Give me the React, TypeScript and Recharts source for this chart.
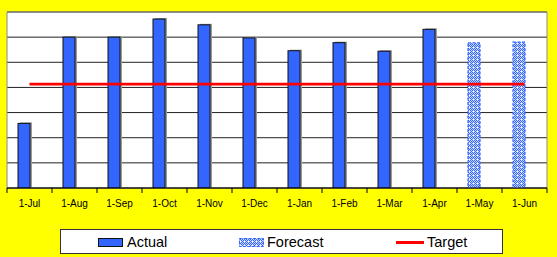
import React from "react";
import { ComposedChart, Bar, Line, XAxis, YAxis, CartesianGrid, ReferenceArea } from "recharts";

const months = ["1-Jul", "1-Aug", "1-Sep", "1-Oct", "1-Nov", "1-Dec", "1-Jan", "1-Feb", "1-Mar", "1-Apr", "1-May", "1-Jun"];
const actual: (number | null)[] = [2.57, 6.0, 6.0, 6.72, 6.49, 5.97, 5.46, 5.78, 5.44, 6.31, null, null];
const forecast: (number | null)[] = [null, null, null, null, null, null, null, null, null, null, 5.77, 5.8];
const target: number[] = [4.13, 4.13, 4.13, 4.13, 4.13, 4.13, 4.13, 4.13, 4.13, 4.13, 4.13, 4.13];
const yTicks = [0, 1, 2, 3, 4, 5, 6, 7];

const data = months.map((m, i) => ({ month: m, actual: actual[i], forecast: forecast[i], target: target[i] }));

const W = 557;
const H = 257;
const M = { top: 12, right: 10, left: 7, bottom: 39 };
const BAND = (W - M.left - M.right) / months.length;
const SHIFT = -6;
const BLUE = "#3366FF";

const ActualShape = (p: any) => {
  const { x, y, width, height } = p;
  if (!height || height <= 0) return null;
  const bx = x + SHIFT;
  return (
    <g>
      <rect x={bx + 2} y={y - 1} width={width} height={height + 1} fill="#9a9a9a" />
      <rect x={bx} y={y} width={width} height={height} fill={BLUE} stroke="#111" strokeWidth={1} />
    </g>
  );
};

const ForecastShape = (p: any) => {
  const { x, y, width, height } = p;
  if (!height || height <= 0) return null;
  const bx = x + SHIFT;
  return (
    <rect x={bx} y={y} width={width} height={height} fill="url(#fcPattern)" stroke={BLUE} strokeWidth={1.2} strokeDasharray="3 1.5" />
  );
};

const Tick = (p: any) => {
  const { x, y, payload, index } = p;
  const half = BAND / 2;
  return (
    <g>
      <line x1={x - half} x2={x - half} y1={y} y2={y + 5} stroke="#000" />
      {index === months.length - 1 && <line x1={x + half} x2={x + half} y1={y} y2={y + 5} stroke="#000" />}
      <text x={x} y={y + 18.5} textAnchor="middle" fontSize={10} fontFamily="Liberation Sans, Arial, sans-serif" fill="#000">
        {payload.value}
      </text>
    </g>
  );
};

export default function App() {
  return (
    <div style={{ position: "fixed", left: 0, top: 0, width: W, height: H, background: "#FFFF00", fontFamily: "Liberation Sans, Arial, sans-serif" }}>
      <svg width={0} height={0} style={{ position: "absolute" }}>
        <defs>
          <pattern id="fcPattern" width={4} height={4} patternUnits="userSpaceOnUse">
            <rect x={0} y={0} width={4} height={4} fill="#c9d6ff" />
            <rect x={0} y={0} width={1} height={1} fill={BLUE} />
            <rect x={2} y={0} width={1} height={1} fill={BLUE} />
            <rect x={1} y={1} width={1} height={1} fill={BLUE} />
            <rect x={3} y={1} width={1} height={1} fill={BLUE} />
            <rect x={0} y={2} width={1} height={1} fill={BLUE} />
            <rect x={2} y={2} width={1} height={1} fill={BLUE} />
            <rect x={1} y={3} width={1} height={1} fill="#ffffff" />
            <rect x={3} y={3} width={1} height={1} fill={BLUE} />
          </pattern>
        </defs>
      </svg>
      <ComposedChart width={W} height={H} data={data} margin={M} barGap={0}>
        <CartesianGrid vertical={false} horizontal stroke="#222" strokeWidth={1} fill="#ffffff" fillOpacity={1} />
        <XAxis
          dataKey="month"
          height={30}
          axisLine={{ stroke: "#000" }}
          tickLine={false}
          tickSize={0}
          tickMargin={0}
          interval={0}
          tick={<Tick />}
        />
        <YAxis hide domain={[0, 7]} ticks={yTicks} type="number" allowDataOverflow />
        <ReferenceArea y1={0} y2={7} fill="none" stroke="#8a8a8a" strokeWidth={1} ifOverflow="extendDomain" />
        <Bar dataKey="actual" stackId="a" barSize={12} shape={<ActualShape />} isAnimationActive={false} />
        <Bar dataKey="forecast" stackId="a" barSize={12} shape={<ForecastShape />} isAnimationActive={false} />
        <Line dataKey="target" type="linear" stroke="#FF0000" strokeWidth={2.6} dot={false} activeDot={false} isAnimationActive={false} />
      </ComposedChart>
      <div
        style={{
          position: "absolute",
          left: 60,
          top: 229,
          width: 443,
          height: 25,
          boxSizing: "border-box",
          background: "#fff",
          border: "1px solid #333",
        }}
      >
        <div style={{ position: "absolute", left: 37, top: 8, width: 25, height: 9, boxSizing: "border-box", background: BLUE, border: "1px solid #111" }} />
        <div style={{ position: "absolute", left: 66, top: 2, fontSize: 14.5, lineHeight: "20px", color: "#000" }}>Actual</div>
        <svg style={{ position: "absolute", left: 178, top: 8 }} width={25} height={9}>
          <rect x={0.5} y={0.5} width={24} height={8} fill="url(#fcPattern)" stroke={BLUE} strokeWidth={1} strokeDasharray="3 1.5" />
        </svg>
        <div style={{ position: "absolute", left: 206, top: 2, fontSize: 14.5, lineHeight: "20px", color: "#000" }}>Forecast</div>
        <div style={{ position: "absolute", left: 335, top: 11, width: 28, height: 3, background: "#FF0000" }} />
        <div style={{ position: "absolute", left: 366, top: 2, fontSize: 14.5, lineHeight: "20px", color: "#000" }}>Target</div>
      </div>
    </div>
  );
}
